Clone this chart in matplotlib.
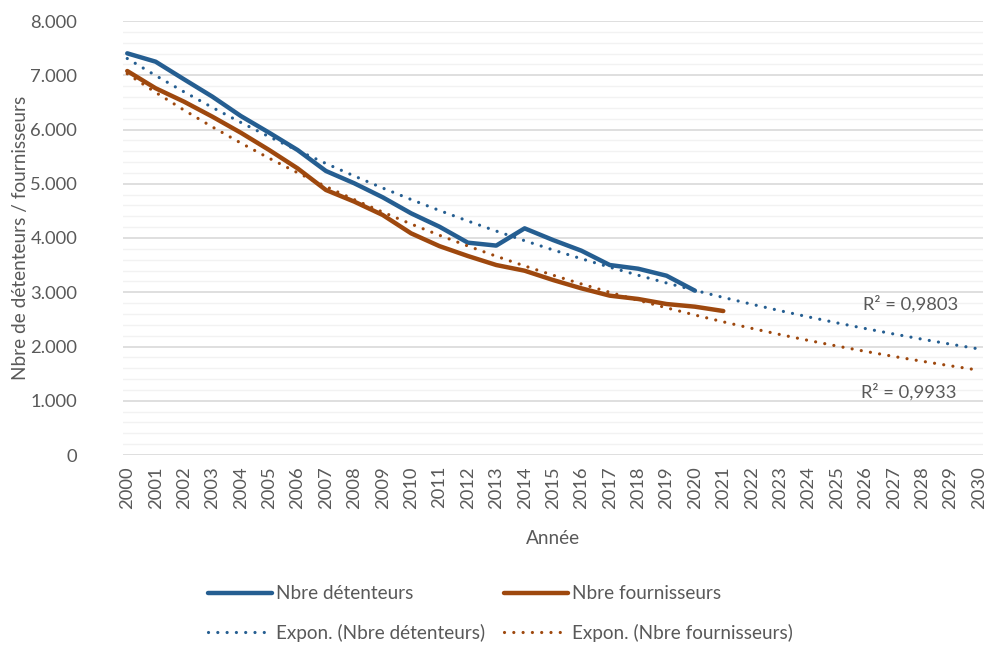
import numpy as np
import matplotlib.pyplot as plt
from matplotlib.ticker import MultipleLocator, FuncFormatter

# data
years_det = list(range(2000, 2021))
detenteurs = [7404, 7250, 6925, 6605, 6249, 5941, 5622, 5235, 5008, 4750, 4455,
              4208, 3914, 3860, 4178, 3963, 3766, 3502, 3434, 3305, 3029]
years_four = list(range(2000, 2022))
fournisseurs = [7078, 6760, 6513, 6236, 5941, 5622, 5284, 4885, 4670, 4424, 4086,
                3850, 3668, 3502, 3397, 3226, 3072, 2937, 2876, 2783, 2734, 2654]
years_all = list(range(2000, 2031))
r2_det = "R² = 0,9803"
r2_four = "R² = 0,9933"

BLUE = '#255E91'
ORANGE = '#9E480E'
GREY = '#595959'
FS = 13.2


def expon_trend(x, y, x_out):
	# same as excel's exponential trendline : ln(y) = ln(a) + b*x
	b, lna = np.polyfit(np.array(x), np.log(np.array(y)), 1)
	return np.exp(lna + b * np.array(x_out))


def main():
	plt.rcParams['font.family'] = ['Lato', 'DejaVu Sans']
	fig = plt.figure(figsize=(9.95, 6.46), dpi=100)
	ax = fig.add_axes([123/995, 1 - 455/646, (983-123)/995, (455-21)/646])

	ax.yaxis.set_minor_locator(MultipleLocator(200))
	ax.yaxis.set_major_locator(MultipleLocator(1000))
	ax.grid(axis='y', which='minor', color='#f2f2f2', lw=1)
	ax.grid(axis='y', which='major', color='#d9d9d9', lw=1.2)
	ax.set_axisbelow(True)

	dots = (0, (0.01, 2.9))
	l1, = ax.plot(years_det, detenteurs, color=BLUE, lw=3.2, solid_capstyle='round',
	              label='Nbre détenteurs')
	l2, = ax.plot(years_four, fournisseurs, color=ORANGE, lw=3.2, solid_capstyle='round',
	              label='Nbre fournisseurs')
	t1, = ax.plot(years_all, expon_trend(years_det, detenteurs, years_all), color=BLUE,
	              lw=2.3, ls=dots, dash_capstyle='round',
	              label='Expon. (Nbre détenteurs)')
	t2, = ax.plot(years_all, expon_trend(years_four, fournisseurs, years_all), color=ORANGE,
	              lw=2.3, ls=dots, dash_capstyle='round',
	              label='Expon. (Nbre fournisseurs)')

	ax.text(2025.92, 2780, r2_det, fontsize=FS, color=GREY, va='center')
	ax.text(2025.85, 1160, r2_four, fontsize=FS, color=GREY, va='center')

	ax.set_xlim(2000 - 0.15, 2030 + 0.15)
	ax.set_ylim(0, 8000)
	ax.set_xticks(years_all)
	ax.set_xticklabels([str(y) for y in years_all], rotation=90)
	ax.yaxis.set_major_formatter(FuncFormatter(lambda v, p: f"{int(v):,}".replace(',', '.')))
	ax.tick_params(axis='both', which='both', length=0, labelsize=FS, labelcolor=GREY)
	ax.tick_params(axis='y', pad=33)
	ax.tick_params(axis='x', pad=8)
	for s in ax.spines.values():
		s.set_visible(False)

	ax.set_xlabel('Année', fontsize=FS + 0.5, color=GREY, labelpad=15)
	ax.set_ylabel('Nbre de détenteurs / fournisseurs', fontsize=FS + 0.5, color=GREY, labelpad=1)

	fig.legend([l1, t1, l2, t2],
	           [l1.get_label(), t1.get_label(), l2.get_label(), t2.get_label()],
	           ncol=2, loc='lower center', bbox_to_anchor=(0.503, -0.02), frameon=False,
	           fontsize=13.6, labelcolor=GREY, handlelength=3.4, handletextpad=0.2,
	           columnspacing=1.0, labelspacing=1.15)

	fig.savefig('out.png', dpi=100)


if __name__ == '__main__':
	main()
